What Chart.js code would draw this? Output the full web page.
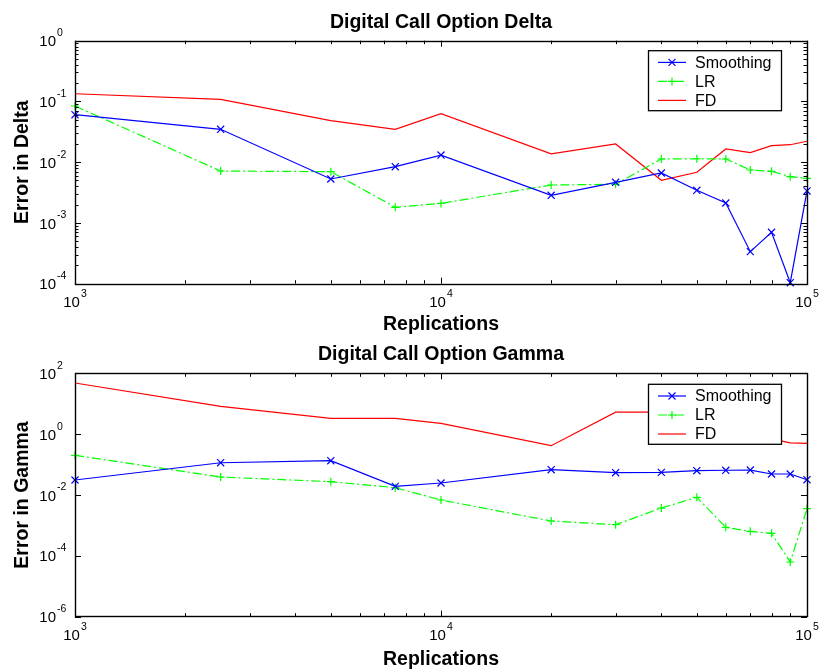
<!DOCTYPE html>
<html>
<head>
<meta charset="utf-8">
<script src="https://cdn.jsdelivr.net/npm/chart.js@4.4.1/dist/chart.umd.min.js"></script>
<style>
  body { margin: 0; background: #fff; }
  canvas { position: absolute; left: 0; }
  #deltaChart { top: 0; }
  #gammaChart { top: 335px; }
</style>
</head>
<body>
<canvas id="deltaChart" width="819" height="335"></canvas>
<canvas id="gammaChart" width="819" height="335"></canvas>
<script>
// Errores de Delta y Gamma de la opcion digital (ejes log-log)
const replications = [1000, 2500, 5000, 7500, 10000, 20000, 30000, 40000, 50000, 60000, 70000, 80000, 90000, 100000];

const deltaSmoothing = [0.0605, 0.0348, 0.00529, 0.00843, 0.0131, 0.00285, 0.00467, 0.00664, 0.00345, 0.00213, 0.000337, 0.000702, 0.000104, 0.00336];
const deltaLR = [0.0841, 0.00716, 0.00698, 0.00181, 0.0021, 0.00421, 0.00433, 0.0113, 0.0114, 0.0113, 0.00744, 0.00708, 0.00578, 0.00543];
const deltaFD = [0.134, 0.108, 0.0482, 0.0347, 0.0629, 0.0137, 0.02, 0.00504, 0.00682, 0.0165, 0.0144, 0.0187, 0.0194, 0.0221];

const gammaSmoothing = [0.0311, 0.115, 0.134, 0.0192, 0.0248, 0.068, 0.054, 0.0555, 0.063, 0.065, 0.066, 0.049, 0.049, 0.0318];
const gammaLR = [0.201, 0.039, 0.0274, 0.0174, 0.00684, 0.0014, 0.00106, 0.00373, 0.00836, 0.000865, 0.000638, 0.00055, 0.0000627, 0.00355];
const gammaFD = [48, 8.2, 3.31, 3.31, 2.26, 0.417, 5.3, 5.3, 5.4, 3.5, 1.8, 0.7, 0.52, 0.5];

const seriesNames = ['Smoothing', 'LR', 'FD'];
const xTicks = [1000, 10000, 100000];
const deltaTicks = [1, 0.1, 0.01, 0.001, 0.0001];
const gammaTicks = [100, 1, 0.01, 0.0001, 0.000001];

const FONT = '"Liberation Sans", Arial, Helvetica, sans-serif';
const BLUE = '#0000ff', GREEN = '#00ff00', RED = '#ff0000';
const LR_DASH = [9, 3, 2, 3];

function pts(vals) {
    return replications.map((r, i) => ({ x: r, y: vals[i] }));
}

// dibuja "10" con el exponente arriba
function drawPow(ctx, x, y, exp, mode) {
    ctx.save();
    ctx.fillStyle = '#000';
    ctx.textBaseline = 'middle';
    ctx.textAlign = 'left';
    const e = String(exp);
    ctx.font = '15px ' + FONT;
    const w10 = ctx.measureText('10').width;
    ctx.font = '10.5px ' + FONT;
    const we = ctx.measureText(e).width;
    let x0 = mode === 'center' ? x - (w10 + 1 + we) / 2 : x;
    ctx.font = '15px ' + FONT;
    ctx.fillText('10', x0, y);
    ctx.font = '10.5px ' + FONT;
    ctx.fillText(e, x0 + w10 + 1, y - 9);
    ctx.restore();
}

function drawMarker(ctx, style, x, y, color) {
    ctx.save();
    ctx.strokeStyle = color;
    ctx.lineWidth = 1.2;
    ctx.beginPath();
    if (style === 'crossRot') {
        const d = 3.5;
        ctx.moveTo(x - d, y - d); ctx.lineTo(x + d, y + d);
        ctx.moveTo(x - d, y + d); ctx.lineTo(x + d, y - d);
    } else {
        const d = 4;
        ctx.moveTo(x - d, y); ctx.lineTo(x + d, y);
        ctx.moveTo(x, y - d); ctx.lineTo(x, y + d);
    }
    ctx.stroke();
    ctx.restore();
}

function decorPlugin(cfg) {
    return {
        id: 'decor',
        afterDraw(chart) {
            const ctx = chart.ctx;
            const a = chart.chartArea;
            const xs = chart.scales.x, ys = chart.scales.y;
            ctx.save();
            ctx.strokeStyle = '#000';
            ctx.lineWidth = 1;

            // ticks hacia dentro en los cuatro lados
            ctx.beginPath();
            for (let dec = 1000; dec <= 100000; dec *= 10) {
                for (let m = 1; m <= 9; m++) {
                    const v = dec * m;
                    if (v > 100000) break;
                    const px = Math.round(xs.getPixelForValue(v)) + 0.5;
                    const len = m === 1 ? 6 : 3.5;
                    ctx.moveTo(px, a.bottom); ctx.lineTo(px, a.bottom - len);
                    ctx.moveTo(px, a.top); ctx.lineTo(px, a.top + len);
                }
            }
            cfg.yTicks.forEach(v => {
                const py = Math.round(ys.getPixelForValue(v)) + 0.5;
                ctx.moveTo(a.left, py); ctx.lineTo(a.left + 6, py);
                ctx.moveTo(a.right, py); ctx.lineTo(a.right - 6, py);
                if (cfg.yMinor) {
                    for (let m = 2; m <= 9; m++) {
                        const mv = v * m;
                        if (mv > cfg.yMax) continue;
                        const my = Math.round(ys.getPixelForValue(mv)) + 0.5;
                        ctx.moveTo(a.left, my); ctx.lineTo(a.left + 3.5, my);
                        ctx.moveTo(a.right, my); ctx.lineTo(a.right - 3.5, my);
                    }
                }
            });
            ctx.stroke();

            // caja de ejes
            ctx.lineWidth = 1.4;
            ctx.strokeRect(Math.round(a.left) + 0.5, Math.round(a.top) + 0.5,
                Math.round(a.right - a.left), Math.round(a.bottom - a.top));

            // etiquetas de ticks
            xTicks.forEach(v => {
                drawPow(ctx, xs.getPixelForValue(v), a.bottom + 19.5, Math.round(Math.log10(v)), 'center');
            });
            cfg.yTicks.forEach(v => {
                drawPow(ctx, 39.3, ys.getPixelForValue(v) + 1.5, Math.round(Math.log10(v)), 'left');
            });

            // titulos
            ctx.fillStyle = '#000';
            ctx.font = 'bold 19.5px ' + FONT;
            ctx.textAlign = 'center';
            ctx.textBaseline = 'alphabetic';
            const cx = (a.left + a.right) / 2;
            ctx.fillText(cfg.title, cx, cfg.titleY);
            ctx.fillText('Replications', cx, cfg.xLabelY);
            ctx.save();
            ctx.translate(27.7, (a.top + a.bottom) / 2);
            ctx.rotate(-Math.PI / 2);
            ctx.fillText(cfg.yLabel, 0, 0);
            ctx.restore();

            // leyenda
            const lx = 648.5, lw = 133, lh = 60;
            const ly = a.top + cfg.legendOffset;
            ctx.fillStyle = '#fff';
            ctx.fillRect(lx, ly, lw, lh);
            ctx.strokeStyle = '#000';
            ctx.lineWidth = 1.3;
            ctx.strokeRect(lx, ly, lw, lh);
            const rows = [
                { name: seriesNames[0], color: BLUE, dash: [], marker: 'crossRot' },
                { name: seriesNames[1], color: GREEN, dash: LR_DASH, marker: 'cross' },
                { name: seriesNames[2], color: RED, dash: [], marker: null }
            ];
            rows.forEach((r, i) => {
                const ry = ly + 11.7 + i * 19;
                ctx.save();
                ctx.strokeStyle = r.color;
                ctx.lineWidth = 1.2;
                ctx.setLineDash(r.dash);
                ctx.beginPath();
                ctx.moveTo(658, ry); ctx.lineTo(686, ry);
                ctx.stroke();
                ctx.restore();
                if (r.marker) drawMarker(ctx, r.marker, 672, ry, r.color);
                ctx.fillStyle = '#000';
                ctx.font = '16px ' + FONT;
                ctx.textAlign = 'left';
                ctx.textBaseline = 'middle';
                ctx.fillText(r.name, 695, ry + 1);
            });
            ctx.restore();
        }
    };
}

function makeChart(id, cfg) {
    return new Chart(document.getElementById(id).getContext('2d'), {
        type: 'line',
        data: {
            datasets: [
                {
                    label: seriesNames[0],
                    data: pts(cfg.smoothing),
                    borderColor: BLUE,
                    borderWidth: 1.2,
                    pointStyle: 'crossRot',
                    pointRadius: 5,
                    pointBorderColor: BLUE,
                    pointBorderWidth: 1.2,
                    tension: 0,
                    clip: false
                },
                {
                    label: seriesNames[1],
                    data: pts(cfg.lr),
                    borderColor: GREEN,
                    borderWidth: 1.2,
                    borderDash: LR_DASH,
                    pointStyle: 'cross',
                    pointRadius: 4,
                    pointBorderColor: GREEN,
                    pointBorderWidth: 1.2,
                    tension: 0,
                    clip: false
                },
                {
                    label: seriesNames[2],
                    data: pts(cfg.fd),
                    borderColor: RED,
                    borderWidth: 1.2,
                    pointRadius: 0,
                    tension: 0,
                    clip: false
                }
            ]
        },
        options: {
            responsive: false,
            animation: false,
            layout: { padding: { top: cfg.padTop, right: 12, left: 0, bottom: 0 } },
            scales: {
                x: {
                    type: 'logarithmic',
                    min: 1000,
                    max: 100000,
                    grid: { display: false },
                    border: { display: false },
                    ticks: { display: false },
                    afterFit: s => { s.height = cfg.xAxisH; }
                },
                y: {
                    type: 'logarithmic',
                    min: cfg.yMin,
                    max: cfg.yMax,
                    grid: { display: false },
                    border: { display: false },
                    ticks: { display: false },
                    afterFit: s => { s.width = 75; }
                }
            },
            plugins: {
                legend: { display: false },
                tooltip: { enabled: false }
            }
        },
        plugins: [decorPlugin(cfg)]
    });
}

makeChart('deltaChart', {
    title: 'Digital Call Option Delta',
    yLabel: 'Error in Delta',
    smoothing: deltaSmoothing, lr: deltaLR, fd: deltaFD,
    yMin: 0.0001, yMax: 1, yTicks: deltaTicks, yMinor: true,
    padTop: 40.7, xAxisH: 51.3, titleY: 27.5, xLabelY: 330, legendOffset: 10
});

makeChart('gammaChart', {
    title: 'Digital Call Option Gamma',
    yLabel: 'Error in Gamma',
    smoothing: gammaSmoothing, lr: gammaLR, fd: gammaFD,
    yMin: 0.000001, yMax: 100, yTicks: gammaTicks, yMinor: false,
    padTop: 38.3, xAxisH: 53.3, titleY: 24.7, xLabelY: 330, legendOffset: 11
});
</script>
</body>
</html>
